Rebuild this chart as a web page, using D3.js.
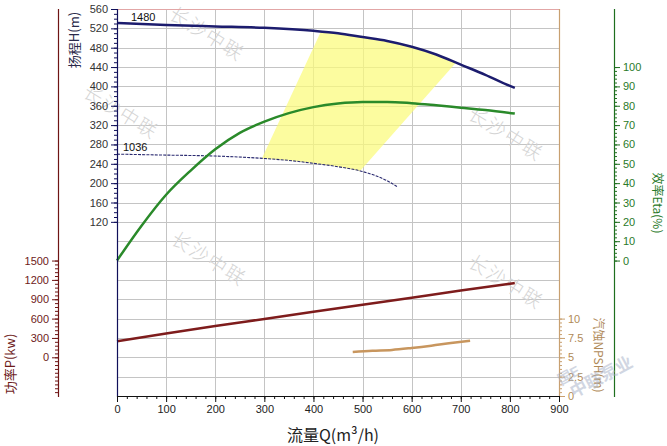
<!DOCTYPE html>
<html><head><meta charset="utf-8">
<script src="https://cdn.jsdelivr.net/npm/d3@7"></script>
<style>html,body{margin:0;padding:0;background:#fff;}svg{display:block;}</style>
</head><body>
<svg id="c" width="667" height="446"></svg>
<script>
// ---- data ----
const qHead1480 = [0, 100, 200, 300, 400, 450, 500, 550, 600, 650, 700, 750, 800, 810];
const head1480  = [531, 527, 524, 521, 515, 510, 502, 494, 482, 466, 445, 424, 401, 397];
const qHead1036 = [0, 100, 200, 300, 350, 400, 450, 500, 550, 570];
const head1036  = [260, 258, 256, 251, 247, 241, 234, 224, 205, 193];
const qEta = [0, 50, 100, 150, 200, 250, 300, 350, 400, 450, 500, 550, 600, 650, 700, 750, 810];
const eta  = [0, 18, 34, 46.5, 57.5, 66, 71.8, 76.2, 79.3, 81.2, 82, 82, 81.3, 80.2, 79, 77.8, 76];
const qPower = [0, 100, 200, 300, 400, 500, 600, 700, 800, 810];
const power  = [250, 370, 485, 595, 705, 815, 925, 1035, 1140, 1150];
const qNpsh = [480, 520, 560, 600, 640, 680, 719];
const npsh  = [5.7, 5.85, 5.95, 6.2, 6.5, 6.85, 7.15];
const regionTopQ = [415, 450, 500, 550, 600, 650, 690];
const regionTopH = [513, 510, 502, 494, 482, 466, 449];
const regionBotQ = [295, 350, 400, 450, 495];
const regionBotH = [251, 247, 241, 234, 225];
const xTicks = [0, 100, 200, 300, 400, 500, 600, 700, 800, 900];
const headTicks = [120, 160, 200, 240, 280, 320, 360, 400, 440, 480, 520, 560];
const powerTicks = [0, 300, 600, 900, 1200, 1500];
const etaTicks = [0, 10, 20, 30, 40, 50, 60, 70, 80, 90, 100];
const npshTicks = [0, 2.5, 5, 7.5, 10];
const curveLabels = ["1480", "1036"];
const watermark = "长沙中联";

// ---- layout ----
const L = 117, R = 559, T = 9, B = 396;
const svg = d3.select("#c");
const x  = d3.scaleLinear([0, 900], [L, R]);
const yH = d3.scaleLinear([-240, 560], [B, T]);
const yP = d3.scaleLinear([-600, 5400], [B, T]);
const yE = d3.scaleLinear([-70, 130], [B, T]);
const yN = d3.scaleLinear([0, 50], [B, T]);
const font = "'Liberation Sans', Arial, sans-serif";
const cjk = "'Noto Sans CJK SC', sans-serif";

// gridlines
const grid = svg.append("g").attr("stroke", "#c4c4c4").attr("stroke-width", 1);
d3.range(-200, 560, 40).forEach(v => grid.append("line")
  .attr("x1", L).attr("x2", R).attr("y1", Math.round(yH(v)) + 0.5).attr("y2", Math.round(yH(v)) + 0.5));
xTicks.slice(1, -1).forEach(v => grid.append("line")
  .attr("y1", T).attr("y2", B).attr("x1", Math.round(x(v)) + 0.5).attr("x2", Math.round(x(v)) + 0.5));

// operating region
const regionPts = regionTopQ.map((q, i) => [x(q), yH(regionTopH[i])])
  .concat(regionBotQ.map((q, i) => [x(q), yH(regionBotH[i])]).reverse());
svg.append("path").attr("d", d3.line()(regionPts) + "Z")
  .attr("fill", "#fbfb7a").attr("fill-opacity", 0.72);

// watermarks
const wm = svg.append("g").attr("font-family", cjk).attr("font-size", 19).attr("font-weight", 300)
  .attr("fill", "#d4d4d4").attr("text-anchor", "middle");
[[207, 34], [121, 112], [506, 134], [209, 259], [506, 282]].forEach(p =>
  wm.append("text").attr("transform", `translate(${p[0]},${p[1]}) rotate(32)`)
    .attr("dy", "0.35em").attr("letter-spacing", 2).text(watermark));

// top border
svg.append("line").attr("x1", L).attr("x2", R).attr("y1", T + 0.5).attr("y2", T + 0.5)
  .attr("stroke", "#e2a6a6");

// curves
const line = (xs, ys, sx, sy) => d3.line().curve(d3.curveMonotoneX)(xs.map((q, i) => [sx(q), sy(ys[i])]));
svg.append("path").attr("d", line(qHead1036, head1036, x, yH)).attr("fill", "none")
  .attr("stroke", "#2a2a70").attr("stroke-width", 1.1).attr("stroke-dasharray", "3,1.2");
svg.append("path").attr("d", line(qEta, eta, x, yE)).attr("fill", "none")
  .attr("stroke", "#2a8a2a").attr("stroke-width", 2.5);
svg.append("path").attr("d", line(qHead1480, head1480, x, yH)).attr("fill", "none")
  .attr("stroke", "#1c1c6e").attr("stroke-width", 2.5);
svg.append("path").attr("d", line(qPower, power, x, yP)).attr("fill", "none")
  .attr("stroke", "#7e1c1c").attr("stroke-width", 2.5);
svg.append("path").attr("d", line(qNpsh, npsh, x, yN)).attr("fill", "none")
  .attr("stroke", "#c8965e").attr("stroke-width", 2.5);

svg.append("text").attr("x", 131).attr("y", 21).attr("font-family", font).attr("font-size", 11)
  .attr("fill", "#111").text(curveLabels[0]);
svg.append("text").attr("x", 123).attr("y", 151).attr("font-family", font).attr("font-size", 11)
  .attr("fill", "#111").text(curveLabels[1]);

// axis helper
function drawAxis(axisFn, scale, pos, majors, minorStep, minorFrom, minorTo, color, textColor, fmt, horizontal) {
  const g = svg.append("g").attr("transform", horizontal ? `translate(0,${pos})` : `translate(${pos},0)`);
  g.call(axisFn(scale).tickValues(d3.range(minorFrom, minorTo + 1e-9, minorStep)).tickSize(3).tickFormat(""))
    .call(s => s.select(".domain").remove());
  g.selectAll("line").attr("stroke", color);
  const g2 = svg.append("g").attr("transform", horizontal ? `translate(0,${pos})` : `translate(${pos},0)`);
  g2.call(axisFn(scale).tickValues(majors).tickSize(6).tickPadding(3).tickFormat(fmt || (d => d)))
    .call(s => s.select(".domain").remove());
  g2.selectAll("line").attr("stroke", color);
  g2.selectAll("text").attr("font-family", font).attr("font-size", 11).attr("fill", textColor);
  const dl = svg.append("line").attr("stroke", color).attr("stroke-width", 1.2);
  if (horizontal) dl.attr("x1", L).attr("x2", R).attr("y1", pos + 0.5).attr("y2", pos + 0.5);
  else dl.attr("x1", pos + 0.5).attr("x2", pos + 0.5).attr("y1", T).attr("y2", B + 1);
  return g2;
}
drawAxis(d3.axisLeft, yH, 117, headTicks, 10, 120, 560, "#10105a", "#333", null, false);
drawAxis(d3.axisLeft, yP, 58, powerTicks, 60, -540, 1500, "#6e1414", "#6e1a1a", null, false);
drawAxis(d3.axisRight, yE, 614, etaTicks, 2, 0, 100, "#1f6f1f", "#2a7a2a", null, false);
drawAxis(d3.axisRight, yN, 559, npshTicks, 0.5, 0, 10, "#c8a070", "#b08a58", d => d, false);
drawAxis(d3.axisBottom, x, 396, xTicks, 20, 0, 900, "#111", "#222", null, true);

// axis titles
svg.append("text").attr("transform", "translate(79,40) rotate(-90)").attr("text-anchor", "middle")
  .attr("font-family", cjk).attr("font-size", 13).attr("fill", "#2a2a4a").text("扬程H(m)");
svg.append("text").attr("transform", "translate(15,364) rotate(-90)").attr("text-anchor", "middle")
  .attr("font-family", cjk).attr("font-size", 13).attr("fill", "#6e1a1a").text("功率P(kw)");
svg.append("text").attr("transform", "translate(653,203) rotate(90)").attr("text-anchor", "middle")
  .attr("font-family", cjk).attr("font-size", 12).attr("fill", "#2a7a2a").text("效率Eta(%)");
svg.append("text").attr("transform", "translate(594,355) rotate(90)").attr("text-anchor", "middle")
  .attr("font-family", cjk).attr("font-size", 12).attr("fill", "#b08a58").text("汽蚀NPSH(m)");
svg.append("text").attr("x", 333).attr("y", 441).attr("text-anchor", "middle")
  .attr("font-family", cjk).attr("font-size", 16).attr("fill", "#222").text("流量Q(m³/h)");

// logo watermark
const logo = svg.append("g").attr("transform", "translate(604,382) rotate(-28)").attr("opacity", 0.5);
logo.append("text").attr("text-anchor", "middle").attr("font-family", cjk).attr("font-weight", "bold")
  .attr("font-size", 17).attr("fill", "#a4afc6").text("中联泵业");
logo.append("text").attr("x", -28).attr("y", -18).attr("text-anchor", "middle").attr("font-family", font)
  .attr("font-weight", "bold").attr("font-size", 14).attr("fill", "#a4afc6").text("国E");
</script>
</body></html>
